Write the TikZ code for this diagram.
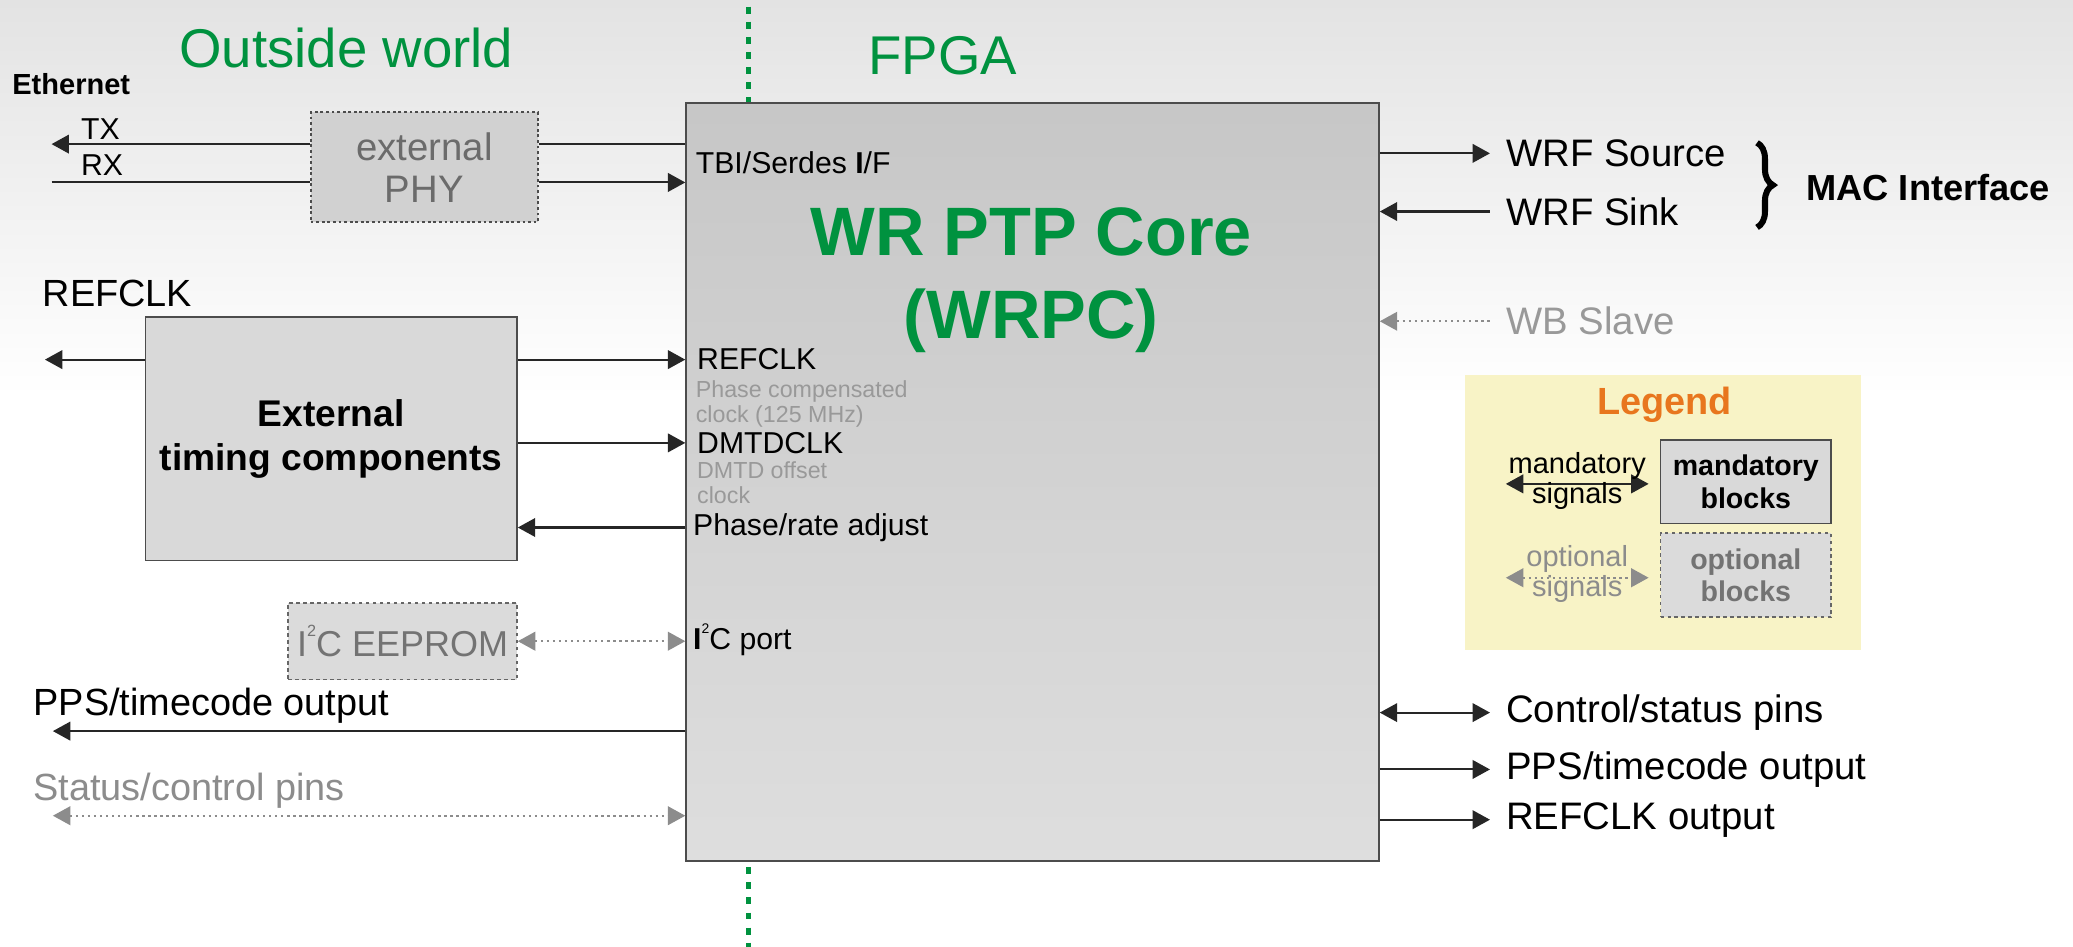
\documentclass[tikz,border=0pt]{standalone}
\usepackage{fontspec}
\setmainfont{Liberation Sans}
\usetikzlibrary{arrows.meta,positioning,decorations.pathreplacing}
\definecolor{wrgreen}{RGB}{0,146,63}
\definecolor{legfill}{RGB}{248,243,198}
\definecolor{legorange}{RGB}{232,118,30}

\begin{document}
\begin{tikzpicture}[x=0.02cm, y=-0.02cm,
  >={Triangle[length=7.5pt,width=8pt]},
  block/.style={draw=black!70, line width=0.8pt, fill=black!15, inner sep=0pt, align=center},
  optblock/.style={block, draw=black!60, dash pattern=on 1.5pt off 1.5pt, fill=black!14, text=black!55},
  sig/.style={draw=black!85, line width=0.9pt},
  optsig/.style={draw=black!45, line width=0.9pt, dash pattern=on 1pt off 1.6pt},
  heading/.style={text=wrgreen, font=\fontsize{23.5}{27}\selectfont},
  port/.style={anchor=west, inner sep=0pt, font=\fontsize{13}{15}\selectfont},
  note/.style={anchor=west, inner sep=0pt, align=left, text=black!40, font=\fontsize{10}{11}\selectfont},
  extlbl/.style={anchor=west, inner sep=0pt, font=\fontsize{16.3}{19}\selectfont},
  outlbl/.style={anchor=west, inner xsep=0.24cm, inner ysep=0pt, font=\fontsize{16.5}{19}\selectfont},
  legtext/.style={align=center, inner sep=0pt, font=\fontsize{12.5}{13}\selectfont}
]
\useasboundingbox (0,0) rectangle (1568,716);
\fill[white] (0,0) rectangle (1568,716);
\shade[top color=black!11, bottom color=white] (0,0) rectangle (1568,300);
\draw[wrgreen, line width=2pt, dash pattern=on 3pt off 3.5pt] (566,5) -- (566,716);

\node[heading] (outw) at (262,36) {Outside world};
\node[heading] (fpga) at (713,42) {FPGA};
\node[anchor=west, inner sep=0pt, font=\bfseries\fontsize{12.5}{15}\selectfont] (eth) at (9,64) {Ethernet};

\node[block, top color=black!22, bottom color=black!13, minimum width=10.48cm, minimum height=11.46cm] (core) at (781,364.5) {};
\node[text=wrgreen, align=center, font=\bfseries\fontsize{29.5}{36}\selectfont] (wrpc) at (780,212) {WR PTP Core\\(WRPC)};

\node[block, dash pattern=on 1.2pt off 1.2pt, fill=black!18, text=black!58, font=\fontsize{16.5}{18}\selectfont, minimum width=3.44cm, minimum height=1.66cm] (phy) at (321,126.5) {external\\PHY};
\node[block, font=\bfseries\fontsize{16}{18.8}\selectfont, minimum width=5.62cm, minimum height=3.68cm] (timing) at (250.5,332) {External\\timing components};
\node[optblock, font=\fontsize{15.5}{18}\selectfont, minimum width=3.46cm, minimum height=1.16cm] (eeprom) at (304.5,485) {I\raisebox{0.55em}{\fontsize{7}{7}\selectfont 2}C EEPROM};

\node[port] (txl) at (61,98) {TX};
\node[port] (rxl) at (61,125) {RX};
\node[extlbl] (refext) at (32,222) {REFCLK};
\node[extlbl] (ppsl) at (25,534) {PPS/timecode output};
\node[extlbl, text=black!45] (statl) at (25,598) {Status/control pins};

\node[port] (tbi) at (526,123) {TBI/Serdes \textbf{I}/F};
\node[port] (refin) at (527,272) {REFCLK};
\node[note] (refnote) at (526,305.5) {Phase compensated\\clock (125 MHz)};
\node[port] (dmtd) at (527,335) {DMTDCLK};
\node[note] (dmtdnote) at (527,365) {DMTD offset\\clock};
\node[port] (adj) at (524,399) {Phase/rate adjust};
\node[port] (i2c) at (524,484) {\textbf{I}\raisebox{0.55em}{\fontsize{6}{6}\selectfont 2}C port};

\node[outlbl] (wsrc) at (1127,116) {WRF Source};
\node[outlbl] (wsink) at (1127,160) {WRF Sink};
\node[outlbl, text=black!40] (wbs) at (1127,243) {WB Slave};
\node[outlbl] (ctrl) at (1127,539) {Control/status pins};
\node[outlbl] (ppsr) at (1127,582) {PPS/timecode output};
\node[outlbl] (refr) at (1127,620) {REFCLK output};
\node[anchor=west, inner sep=0pt, font=\bfseries\fontsize{15.6}{18}\selectfont] (mac) at (1366,142) {MAC Interface};
\draw[line width=2.6pt, decorate, decoration={brace, amplitude=0.24cm}] (1329,108) -- (1329,172);

\coordinate (txend) at (39,109);
\coordinate (rxend) at (39,138);
\coordinate (refend) at (34,272);
\coordinate (ppsend) at (40,553);
\coordinate (statend) at (40,617);

\draw[sig,->] (phy.west |- txend) -- (txend);
\draw[sig] (rxend) -- (phy.west |- rxend);
\draw[sig] (phy.east |- txend) -- (core.west |- txend);
\draw[sig,->] (phy.east |- rxend) -- (core.west |- rxend);
\draw[sig,->] (timing.west |- refend) -- (refend);
\draw[sig,->] (timing.east |- refin) -- (core.west |- refin);
\draw[sig,->] (timing.east |- dmtd) -- (core.west |- dmtd);
\draw[sig,->] (core.west |- adj) -- (timing.east |- adj);
\draw[optsig,<->] (eeprom) -- (core.west |- eeprom);
\draw[sig,->] (core.west |- ppsend) -- (ppsend);
\draw[optsig,<->] (statend) -- (core.west |- statend);

\draw[sig,->] (core.east |- wsrc) -- (wsrc);
\draw[sig,<-] (core.east |- wsink) -- (wsink);
\draw[optsig,<-] (core.east |- wbs) -- (wbs);
\draw[sig,<->] (core.east |- ctrl) -- (ctrl);
\draw[sig,->] (core.east |- ppsr) -- (ppsr);
\draw[sig,->] (core.east |- refr) -- (refr);

\node[fill=legfill, minimum width=6cm, minimum height=4.16cm] (legend) at (1258,388) {};
\node[text=legorange, font=\bfseries\fontsize{16.3}{19}\selectfont] (legtitle) at (1259,306) {Legend};
\node[block, font=\bfseries\fontsize{12.3}{14}\selectfont, minimum width=2.58cm, minimum height=1.26cm] (mbox) at (1320.5,364.5) {mandatory\\blocks};
\node[optblock, font=\bfseries\fontsize{12.3}{14}\selectfont, minimum width=2.58cm, minimum height=1.28cm] (obox) at (1320.5,435) {optional\\blocks};
\coordinate (mleft) at (1139,366);
\coordinate (mright) at (1247,366);
\coordinate (oleft) at (1139,437);
\coordinate (oright) at (1247,437);
\draw[sig,<->] (mleft) -- (mright);
\draw[optsig,<->] (oleft) -- (oright);
\node[legtext] (mtext) at (1193,364) {mandatory\\signals};
\node[legtext, text=black!45] (otext) at (1193,434) {optional\\signals};
\end{tikzpicture}
\end{document}
